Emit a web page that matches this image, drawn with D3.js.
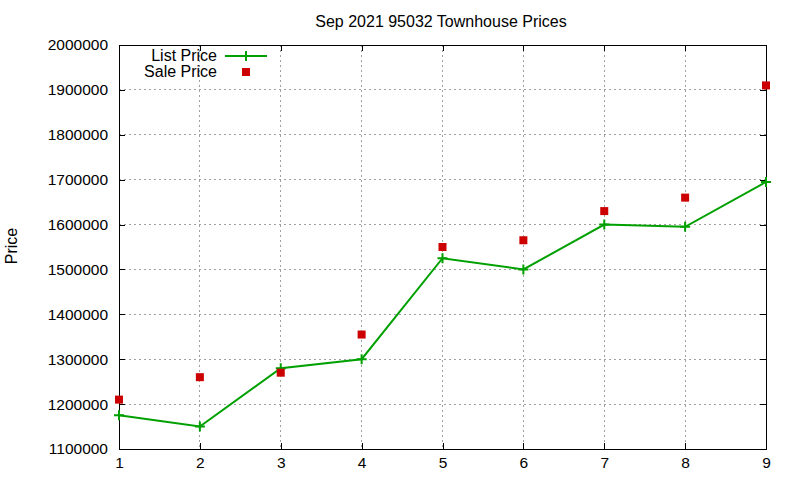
<!DOCTYPE html>
<html>
<head>
<meta charset="utf-8">
<script src="https://cdn.jsdelivr.net/npm/d3@7"></script>
<style>
body { margin: 0; background: #fff; }
text { font-family: "Liberation Sans", Arial, sans-serif; fill: #000; }
</style>
</head>
<body>
<svg id="chart" width="800" height="480"></svg>
<script>
// data
var months = [1, 2, 3, 4, 5, 6, 7, 8, 9];
var listPrice = [1175000, 1150000, 1280000, 1300000, 1525000, 1500000, 1600000, 1595000, 1695000];
var salePrice = [1210000, 1260000, 1270000, 1355000, 1550000, 1565000, 1630000, 1660000, 1910000];
var yTicks = [1100000, 1200000, 1300000, 1400000, 1500000, 1600000, 1700000, 1800000, 1900000, 2000000];
var title = "Sep 2021 95032 Townhouse Prices";

var svg = d3.select("#chart");
// plot box (don't use "top" - it's window.top)
var pL = 119, pR = 766, pT = 45, pB = 449;

var x = d3.scaleLinear().domain([1, 9]).range([pL, pR]);
var y = d3.scaleLinear().domain([1100000, 2000000]).range([pB, pT]);

var green = "#00a000";
var red = "#cc0000";

// grid
var grid = svg.append("g");
grid.selectAll(".gx").data(months.slice(1, -1)).enter().append("line")
    .attr("x1", function(d){ return x(d); }).attr("x2", function(d){ return x(d); })
    .attr("y1", pT).attr("y2", pB);
grid.selectAll(".gy").data(yTicks.slice(1, -1)).enter().append("line")
    .attr("x1", pL).attr("x2", pR)
    .attr("y1", function(d){ return y(d); }).attr("y2", function(d){ return y(d); });
grid.selectAll("line")
    .attr("stroke", "#a0a0a0").attr("stroke-width", 1).attr("stroke-dasharray", "2,3")
    .attr("shape-rendering", "crispEdges");

// axes (gnuplot style: ticks inward on all four sides)
var fontSize = "16px";
var tickFont = "15.5px";
var ax = svg.append("g").attr("transform", "translate(0," + pB + ")")
    .call(d3.axisBottom(x).tickValues(months).tickFormat(d3.format("d")).tickSize(-6).tickPadding(8));
var axTop = svg.append("g").attr("transform", "translate(0," + pT + ")")
    .call(d3.axisTop(x).tickValues(months).tickFormat("").tickSize(-6));
var ay = svg.append("g").attr("transform", "translate(" + pL + ",0)")
    .call(d3.axisLeft(y).tickValues(yTicks).tickFormat(d3.format("d")).tickSize(-6).tickPadding(11));
var ayR = svg.append("g").attr("transform", "translate(" + pR + ",0)")
    .call(d3.axisRight(y).tickValues(yTicks).tickFormat("").tickSize(-6));
[ax, axTop, ay, ayR].forEach(function(g){
    g.selectAll(".domain").remove();
    g.selectAll("line").attr("stroke", "#000").attr("shape-rendering", "crispEdges");
    g.selectAll("text").style("font-size", tickFont).style("font-family", "Liberation Sans, Arial, sans-serif");
});

svg.append("rect").attr("x", pL).attr("y", pT)
    .attr("width", pR - pL).attr("height", pB - pT)
    .attr("fill", "none").attr("stroke", "#000").attr("stroke-width", 1)
    .attr("shape-rendering", "crispEdges");

// list price line
var line = d3.line().x(function(d, i){ return x(months[i]); }).y(function(d){ return y(d); });
svg.append("path").datum(listPrice).attr("d", line)
    .attr("fill", "none").attr("stroke", green).attr("stroke-width", 2);

var plus = function(g, cx, cy){
    g.append("path").attr("d", "M" + (cx - 5) + "," + cy + "H" + (cx + 5) + "M" + cx + "," + (cy - 5) + "V" + (cy + 5))
        .attr("stroke", green).attr("stroke-width", 2).attr("fill", "none");
};
var marks = svg.append("g");
listPrice.forEach(function(d, i){ plus(marks, x(months[i]), y(d)); });

// sale price squares
svg.selectAll(".sale").data(salePrice).enter().append("rect")
    .attr("x", function(d, i){ return x(months[i]) - 4; })
    .attr("y", function(d){ return y(d) - 4; })
    .attr("width", 8).attr("height", 8).attr("fill", red);

// legend
var leg = svg.append("g");
leg.append("text").attr("x", 217).attr("y", 61).attr("text-anchor", "end").style("font-size", fontSize).text("List Price");
leg.append("line").attr("x1", 225).attr("x2", 267).attr("y1", 56).attr("y2", 56)
    .attr("stroke", green).attr("stroke-width", 2);
plus(leg, 246, 56);
leg.append("text").attr("x", 217).attr("y", 77).attr("text-anchor", "end").style("font-size", fontSize).text("Sale Price");
leg.append("rect").attr("x", 242).attr("y", 68).attr("width", 8).attr("height", 8).attr("fill", red);

// title and y label
svg.append("text").attr("x", 441).attr("y", 27).attr("text-anchor", "middle").style("font-size", "16px").text(title);
svg.append("text").attr("transform", "translate(17,246) rotate(-90)").attr("text-anchor", "middle")
    .style("font-size", fontSize).text("Price");
</script>
</body>
</html>
